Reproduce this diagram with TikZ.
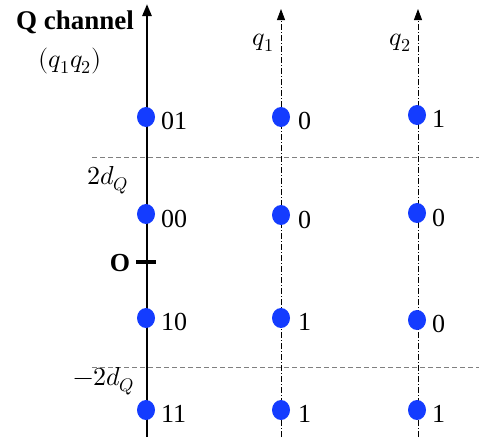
\documentclass[tikz,border=0pt]{standalone}
\usepackage{fontspec}
\usepackage{unicode-math}
\setmainfont{Liberation Serif}
\usetikzlibrary{arrows.meta,shapes.geometric}
\definecolor{dotblue}{RGB}{20,60,255}
\begin{document}
\begin{tikzpicture}[x=1pt,y=-1pt,
  dot/.style={ellipse,fill=dotblue,minimum width=18pt,minimum height=20pt,inner sep=0pt},
  lab/.style={font=\fontsize{26}{30}\selectfont,anchor=west,inner sep=0pt},
  mlab/.style={font=\fontsize{26}{30}\selectfont},
  dashdot/.style={line width=0.8pt,dash pattern=on 6pt off 2pt on 1pt off 2pt},
  grid/.style={gray,line width=0.9pt,dash pattern=on 5pt off 3pt}]
\useasboundingbox (0,0) rectangle (479,437);
% axes
\coordinate (m0) at (147,437); \coordinate (m1) at (147,4);
\draw[line width=2.6pt,-{Triangle[length=12pt,width=9pt]}] (m0) -- (m1);
\coordinate (a0) at (281,437); \coordinate (a1) at (281,9);
\draw[dashdot,-{Triangle[length=11pt,width=8pt]}] (a0) -- (a1);
\coordinate (b0) at (418,437); \coordinate (b1) at (418,9);
\draw[dashdot,-{Triangle[length=11pt,width=8pt]}] (b0) -- (b1);
% dashed thresholds
\coordinate (d1a) at (92,157); \coordinate (d1b) at (479,157);
\coordinate (d2a) at (92,367); \coordinate (d2b) at (479,367);
\draw[grid] (d1a) -- (d1b);
\draw[grid] (d2a) -- (d2b);
% origin tick
\coordinate (t0) at (136,262); \coordinate (t1) at (156,262);
\draw[line width=3.5pt] (t0) -- (t1);
\node[font=\fontsize{26}{30}\selectfont\bfseries] (O) at (120,263) {O};
% title
\node[font=\fontsize{27}{30}\selectfont\bfseries] (title) at (75,22) {Q channel};
\node[mlab] (qq) at (70,61) {$(q_1q_2)$};
\node[mlab] (q1) at (263,43) {$q_1$};
\node[mlab] (q2) at (400,43) {$q_2$};
\node[mlab] (p2d) at (108,180) {$2d_Q$};
\node[mlab] (m2d) at (104,381) {$-2d_Q$};
% dots main
\node[dot] (c01) at (146,117) {};
\node[dot] (c00) at (146,214) {};
\node[dot] (c10) at (146,318) {};
\node[dot] (c11) at (146,410) {};
\node[lab] (l01) at (161,121) {01};
\node[lab] (l00) at (161,219) {00};
\node[lab] (l10) at (161,322) {10};
\node[lab] (l11) at (161,414) {11};
% q1 column
\node[dot] (e1) at (281,117) {};
\node[dot] (e2) at (281,215) {};
\node[dot] (e3) at (281,318) {};
\node[dot] (e4) at (281,410) {};
\node[lab] (k1) at (298,121) {0};
\node[lab] (k2) at (298,220) {0};
\node[lab] (k3) at (298,322) {1};
\node[lab] (k4) at (298,414) {1};
% q2 column
\node[dot] (f1) at (417,115) {};
\node[dot] (f2) at (417,213) {};
\node[dot] (f3) at (417,320) {};
\node[dot] (f4) at (417,410) {};
\node[lab] (g1) at (432,119) {1};
\node[lab] (g2) at (432,218) {0};
\node[lab] (g3) at (432,324) {0};
\node[lab] (g4) at (432,414) {1};
\end{tikzpicture}
\end{document}
